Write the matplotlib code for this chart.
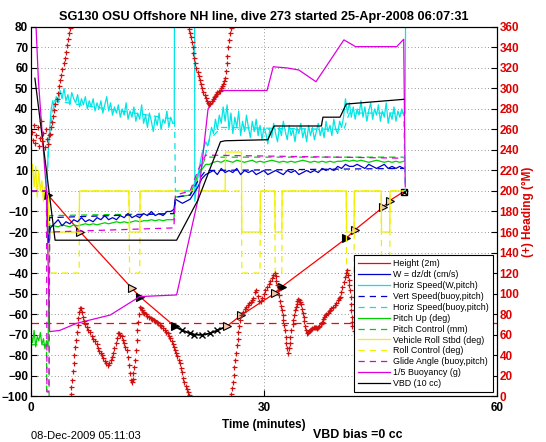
import matplotlib
matplotlib.use('Agg')
import matplotlib.pyplot as plt
from matplotlib.lines import Line2D

plt.rcParams['font.family'] = ['Liberation Sans', 'DejaVu Sans']

# ---- data (minutes / plot units) ----
t_desc = [3.0, 3.5, 4.0, 4.5, 5.0, 5.5, 6.0, 6.5, 7.0, 7.5, 8.0, 8.5, 9.0, 9.5, 10.0, 10.5,
          11.0, 11.5, 12.0, 12.5, 13.0, 13.5, 14.0, 14.5, 15.0, 15.5, 16.0, 16.5, 17.0, 17.5, 18.0]
t_asc = [23.0, 23.5, 24.0, 24.5, 25.0, 25.5, 26.0, 26.5, 27.0, 27.5, 28.0, 28.5, 29.0, 29.5,
         30.0, 30.5, 31.0, 31.5, 32.0, 32.5, 33.0, 33.5, 34.0, 34.5, 35.0, 35.5, 36.0, 36.5,
         37.0, 37.5, 38.0, 38.5, 39.0, 39.5, 40.0, 40.5, 41.0, 41.5, 42.0, 42.5, 43.0, 43.5,
         44.0, 44.5, 45.0, 45.5, 46.0, 46.5, 47.0, 47.5, 48.0]

# horiz speed (W, pitch), finer sampling
t_cy_desc = [3.0, 3.25, 3.5, 3.75, 4.0, 4.25, 4.5, 4.75, 5.0, 5.25, 5.5, 5.75, 6.0, 6.25, 6.5, 6.75,
             7.0, 7.25, 7.5, 7.75, 8.0, 8.25, 8.5, 8.75, 9.0, 9.25, 9.5, 9.75, 10.0, 10.25, 10.5,
             10.75, 11.0, 11.25, 11.5, 11.75, 12.0, 12.25, 12.5, 12.75, 13.0, 13.25, 13.5, 13.75,
             14.0, 14.25, 14.5, 14.75, 15.0, 15.25, 15.5, 15.75, 16.0, 16.25, 16.5, 16.75, 17.0,
             17.25, 17.5, 17.75, 18.0, 18.25]
cy_desc = [41, 46, 43, 49, 45, 50, 44, 47, 42, 48, 45, 43, 47, 41, 45, 42,
           46, 40, 44, 41, 45, 39, 43, 40, 44, 38, 42, 46, 39, 43, 37,
           41, 38, 42, 36, 40, 37, 43, 35, 39, 36, 41, 34, 38,
           35, 42, 33, 37, 31, 38, 34, 29, 36, 32, 38, 30, 35,
           33, 39, 31, 36, 33]
t_cy_asc = [23.0, 23.25, 23.5, 23.75, 24.0, 24.25, 24.5, 24.75, 25.0, 25.25, 25.5, 25.75, 26.0,
            26.25, 26.5, 26.75, 27.0, 27.25, 27.5, 27.75, 28.0, 28.25, 28.5, 28.75, 29.0, 29.25,
            29.5, 29.75, 30.0, 30.25, 30.5, 30.75, 31.0, 31.25, 31.5, 31.75, 32.0, 32.25, 32.5,
            32.75, 33.0, 33.25, 33.5, 33.75, 34.0, 34.25, 34.5, 34.75, 35.0, 35.25, 35.5, 35.75,
            36.0, 36.25, 36.5, 36.75, 37.0, 37.25, 37.5, 37.75, 38.0, 38.25, 38.5, 38.75, 39.0,
            39.25, 39.5, 39.75, 40.0, 40.25, 40.5, 40.75, 41.0, 41.25, 41.5, 41.75, 42.0, 42.25,
            42.5, 42.75, 43.0, 43.25, 43.5, 43.75, 44.0, 44.25, 44.5, 44.75, 45.0, 45.25, 45.5,
            45.75, 46.0, 46.25, 46.5, 46.75, 47.0, 47.25, 47.5, 47.75, 48.0]
cy_asc = [26, 31, 28, 35, 30, 37, 33, 41, 34, 42, 30, 38, 28,
          36, 31, 39, 27, 34, 29, 37, 31, 26, 34, 29, 35, 27,
          32, 25, 31, 28, 23, 30, 26, 33, 28, 24, 31, 27, 34,
          29, 25, 32, 27, 30, 24, 31, 28, 33, 26, 30, 24, 32,
          27, 31, 25, 29, 33, 27, 31, 26, 34, 29, 32, 27, 35,
          30, 28, 34, 31, 36, 45, 38, 43, 36, 41, 35, 40, 37,
          44, 36, 41, 34, 39, 43, 35, 40, 37, 42, 34, 39, 36,
          43, 33, 38, 35, 41, 34, 39, 36, 40, 37]
# W = dz/dt
w_desc = [-16, -14, -17, -15, -16, -14, -15, -13, -15, -14, -15, -13, -14, -12, -14, -13,
          -14, -12, -13, -11, -13, -12, -13, -11, -12, -10, -12, -11, -12, -10, -10]
w_asc = [9, 10, 8, 11, 9, 10, 9, 11, 8, 10, 9, 10, 8, 9, 10, 8, 9, 10, 9, 8, 10, 9, 10, 8,
         9, 10, 9, 10, 9, 11, 10, 11, 10, 12, 11, 13, 12, 12, 13, 12, 11, 13, 12, 11, 12,
         13, 11, 12, 11, 12, 11]
# pitch up
pitch_desc = [-17, -17.5, -16.5, -17, -17.5, -16.5, -17, -16.5, -16, -16.5, -16, -16.5, -16, -15.5,
              -16, -15.5, -15, -15.5, -15, -15.5, -15, -14.5, -15, -14.5, -14.5, -14, -14.5, -14,
              -14.5, -14, -14]
pitch_asc = [13, 14, 14.5, 14, 15, 14.5, 14, 15, 14.5, 14, 14.5, 15, 14, 14.5, 14, 14.5, 15, 14.5,
             14, 14.5, 14, 14.5, 14, 14.5, 15, 14.5, 14, 14.5, 14, 14.5, 14, 14.5, 14, 14.5, 14.5,
             15, 14.5, 15, 14.5, 15, 14.5, 14, 14.5, 15, 14.5, 14, 14.5, 14, 14.5, 14, 14.5]

t_surf = [0.0, 0.2, 0.4, 0.6, 0.8, 1.0, 1.2, 1.4, 1.6, 1.8, 2.0, 2.2]
pitch_surf = [-70, -74, -68, -76, -71, -73, -69, -75, -72, -77, -73, -76]
roll_surf = [8, 13, 2, 12, -3, 10, 0, 5, -5, 2, 0, -2]

# smooth model curves
t_model = [0.0, 2.0, 2.05, 2.3, 2.4, 18.4, 18.6, 20.5, 21.5, 22.5, 48.0]
glide_v = [0, 0, -98, -98, -20, -18, -2, 0, 10, 17.5, 16]
pcon_v = [-75, -75, -130, -130, -12, -11, -3, -2, 8, 16.5, 16.5]
vspd_v = [0, 0, -25, -25, -13, -11, -3, -2, 5, 10, 11]
hspd_t = [2.0, 2.3, 3.0, 18.5, 18.6, 20.5, 21.5, 23.0, 24.5, 40.3, 41.0, 48.0, 48.2]
hspd_v = [0, 25, 44, 35, 0, 0, 5, 25, 31, 30, 38, 38, 0]

# roll
roll_t = [2.2, 2.3, 6.2, 6.25, 12.6, 12.7, 14.0, 14.05, 25.0, 25.05, 27.1, 27.15, 29.5, 29.55,
          31.4, 31.45, 32.3, 32.35, 40.6, 40.65, 41.6, 41.65, 45.1, 45.15, 46.2, 46.25, 48.0]
roll_v = [-2, -20, -20, 0, 0, -20, -20, 0, 0, 19, 19, -20, -20, 0,
          0, -20, -20, 0, 0, -20, -20, 0, 0, -20, -20, 0, 0]
rollc_t = [0.0, 2.3, 2.35, 6.2, 6.25, 12.6, 12.7, 14.0, 14.05, 27.1, 27.15, 29.5, 29.55,
           31.4, 31.45, 32.3, 32.35, 40.6, 40.65, 41.6, 41.65, 45.1, 45.15, 46.2, 46.25, 48.0]
rollc_v = [0, 0, -40, -40, 0, 0, -40, -40, 0, 0, -40, -40, 0,
           0, -40, -40, 0, 0, -40, -40, 0, 0, -40, -40, 0, 0]

# 1/5 buoyancy
buoy_t = [0.3, 0.65, 0.95, 1.5, 2.0, 2.4, 3.7, 5.9, 10.2, 14.0, 18.75, 21.5, 22.8, 24.5,
          30.4, 31.2, 33.0, 34.5, 36.7, 40.3, 41.8, 47.1, 48.0, 48.2]
buoy_v = [110, 80, 54, 25, -1, -68.6, -68, -64.5, -60.5, -51.5, -50.7, -4.4, 40, 49,
          49, 60.6, 60, 59, 53.3, 73.7, 70.4, 70.4, 74, 2]
# VBD
vbd_t = [0.5, 3.1, 18.75, 21.5, 24.4, 25.0, 30.5, 31.3, 37.4, 37.6, 39.8, 40.6, 48.0]
vbd_v = [55, -24, -24, -4.4, 24, 24.5, 25, 31.7, 31.7, 36, 36, 42.4, 44.7]

# height (2m)
ht_t = [2.2, 6.3, 13.0, 14.0, 18.5]
ht_v = [-2, -19.8, -47.5, -51.5, -66]
apo_t = [18.5, 19.5, 20.5, 21.0, 22.0, 23.0, 24.0, 25.2]
apo_v = [-66, -68, -69.5, -70, -70.2, -69.5, -68, -66]
asc_t = [25.2, 27.1, 31.4, 32.3, 37.2, 40.6, 41.7, 45.3, 46.2, 48.0]
asc_v = [-66, -60.5, -49.9, -46.7, -32.8, -23.1, -19, -8, -4.7, -0.3]
open_mk_t = [6.3, 13.0, 25.2, 27.1, 31.4, 41.7, 45.3, 46.2]
open_mk_v = [-19.8, -47.5, -66, -60.5, -49.9, -19, -8, -4.7]
fill_mk_t = [2.2, 14.0, 18.5, 32.3, 40.6]
fill_mk_v = [-2, -51.5, -66, -46.7, -23.1]
target_depth = -64.4

# heading (deg), right axis
head_t = [0.1, 0.25, 0.4, 0.55, 0.7, 0.85, 1.0, 1.15, 1.3, 1.45, 1.6, 1.75, 1.9, 2.05, 2.2, 2.3,
          2.4, 2.55, 2.7, 2.85, 3.0, 3.15, 3.3, 3.45, 3.6, 3.75, 3.9, 4.05, 4.2, 4.35, 4.5, 4.65,
          4.8, 4.95, 5.05,
          5.1, 5.2, 5.3, 5.4, 5.5, 5.6, 5.7, 5.8, 5.9, 6.0, 6.1, 6.2, 6.3,
          6.4, 6.55, 6.7, 6.85, 7.0, 7.2, 7.4, 7.6, 7.8, 8.0, 8.2, 8.45, 8.6, 8.8, 8.95, 9.1,
          9.3, 9.5, 9.7, 9.95, 10.1, 10.3, 10.45, 10.6, 10.75, 10.9, 11.05, 11.2, 11.35, 11.5,
          11.7, 11.85, 12.0, 12.15, 12.3, 12.45, 12.6, 12.75, 12.9, 13.0, 13.1, 13.2, 13.3, 13.4,
          13.5, 13.6, 13.7, 13.8, 13.9, 14.0,
          14.15, 14.3, 14.45, 14.6, 14.8, 15.0, 15.2, 15.4, 15.6, 15.8, 16.0, 16.2, 16.4, 16.6,
          16.8, 17.0, 17.2, 17.4, 17.6, 17.8, 17.95, 18.1, 18.25, 18.4, 18.55, 18.7, 18.85, 19.0,
          19.15, 19.3, 19.45, 19.6, 19.75, 19.9, 20.05, 20.2, 20.3,
          20.4, 20.5, 20.6, 20.7, 20.8, 20.9, 21.0, 21.15, 21.3, 21.45, 21.6, 21.75, 21.9, 22.05,
          22.2, 22.35, 22.5, 22.65, 22.8, 22.95, 23.1, 23.25, 23.4, 23.55, 23.7, 23.85, 24.0,
          24.15, 24.3, 24.45, 24.6, 24.75, 24.9, 25.0, 25.1, 25.2, 25.3, 25.4, 25.5, 25.6, 25.7,
          25.8, 25.9, 26.0, 26.1, 26.2, 26.3, 26.4, 26.5, 26.6, 26.7, 26.8, 26.95, 27.1, 27.3,
          27.5, 27.7, 27.9, 28.1, 28.3, 28.5, 28.65, 28.8, 29.0, 29.2, 29.4, 29.6, 29.8, 30.0,
          30.2, 30.4, 30.6, 30.8, 31.0, 31.2, 31.4,
          31.5, 31.6, 31.7, 31.8, 31.9, 32.05, 32.2, 32.3, 32.4, 32.5, 32.6, 32.7, 32.8, 32.9,
          33.0, 33.1, 33.2, 33.3, 33.4, 33.55, 33.7, 33.8, 33.9, 34.0, 34.1, 34.2, 34.3, 34.4,
          34.55, 34.7, 34.8, 34.9, 35.0, 35.1, 35.2, 35.3, 35.4, 35.5, 35.65, 35.8, 35.95, 36.1,
          36.25, 36.4, 36.55, 36.7, 36.85, 37.0, 37.15, 37.3, 37.45, 37.6, 37.75, 37.9, 38.05,
          38.2, 38.35, 38.5, 38.7, 38.9, 39.1, 39.3, 39.5, 39.65, 39.8, 39.95, 40.1, 40.25, 40.4,
          40.55, 40.7, 40.8, 40.9, 41.0, 41.1, 41.15, 41.2, 41.25, 41.3, 41.35, 41.4,
          41.6, 41.8, 42.0, 42.3, 42.6, 43.0, 43.4, 43.8, 44.2, 44.6, 45.0, 45.4, 45.8, 46.2,
          46.6, 47.0, 47.4, 47.8]
head_v = [258, 250, 264, 247, 255, 262, 244, 252, 268, 249, 257, 243, 260, 251, 246, 255,
          256, 262, 267, 273, 279, 285, 290, 296, 302, 308, 313, 319, 325, 330, 336, 342,
          348, 354, 359,
          2, 9, 16, 24, 32, 40, 48, 55, 62, 69, 76, 82, 86,
          86, 82, 77, 73, 70, 67, 64, 62, 59, 56, 54, 51, 47, 44, 42, 40,
          37, 34, 32, 30, 32, 35, 38, 42, 47, 52, 57, 61, 61, 60,
          59, 55, 52, 48, 45, 38, 30, 22, 16, 14, 17, 22, 28, 35,
          45, 55, 64, 72, 80, 87,
          86, 84, 82, 81, 80, 78, 77, 76, 75, 74, 73, 72, 71, 69,
          68, 66, 64, 62, 61, 59, 57, 54, 51, 48, 45, 42, 39, 35,
          32, 27, 23, 18, 14, 10, 7, 4, 1,
          358, 354, 350, 345, 340, 335, 330, 325, 320, 316, 312, 308, 304, 300,
          297, 294, 291, 288, 286, 285, 286, 288, 290, 292, 293, 295, 297,
          298, 298, 300, 302, 304, 307, 310, 317, 325, 332, 340, 347, 354, 359,
          2, 8, 14, 21, 28, 35, 42, 50, 56, 62, 68, 74, 79, 82,
          85, 87, 89, 91, 92, 94, 96, 101, 103, 98, 93, 93, 96, 100,
          103, 106, 109, 112, 115, 118, 120,
          117, 112, 108, 103, 99, 93, 88, 84, 79, 74, 69, 64, 58, 52,
          47, 42, 47, 52, 58, 64, 70, 74, 79, 84, 87, 90, 93, 95,
          94, 92, 90, 85, 81, 77, 73, 68, 64, 61, 62, 63, 64, 65,
          66, 67, 67.6, 67, 66, 67, 68, 70, 72, 75, 77, 79, 80,
          81, 83, 84, 85.5, 87, 89, 91, 94, 96, 97, 101, 106, 111, 116,
          120, 123, 118, 113, 108, 103, 97, 90, 84, 77, 72, 68,
          63, 62, 64, 68, 72, 76, 80, 84, 88, 92, 96, 100, 104, 108,
          111, 114, 116, 118]

c_head = '#d01010'
c_cyan = '#00e5e5'
c_mag = '#dd00dd'
c_green = '#00d000'
c_blue = '#0000cc'
c_yellow = '#f0f000'

# ---- plot ----
fig = plt.figure(figsize=(5.46, 4.42), dpi=100)
ax = fig.add_axes([0.0568, 0.104, 0.8532, 0.835])
ax2 = ax.twinx()

lw = 0.9
dash = (0, (5, 4))
ax.plot(ht_t, ht_v, color='r', lw=lw)
ax.plot(asc_t, asc_v, color='r', lw=lw)
ax.plot(apo_t, apo_v, color='k', lw=1.3)
ax.plot([0, 60], [target_depth, target_depth], color='r', lw=lw, ls=(0, (6, 4)))
ax.plot(open_mk_t, open_mk_v, ls='none', marker='>', ms=6, mfc='#f2c8a8', mec='k', mew=0.8)
ax.plot(fill_mk_t, fill_mk_v, ls='none', marker='>', ms=6, mfc='k', mec='k', mew=0.8)
ax.plot(apo_t[1:-1], apo_v[1:-1], ls='none', marker='x', ms=4, color='k', mew=1.0)
ax.plot([48.0], [-0.3], ls='none', marker='s', ms=4.5, mfc='none', mec='k', mew=1.0)
ax.plot([48.0], [-0.3], ls='none', marker='x', ms=4.5, color='k', mew=1.0)

# pitch / roll
ax.plot(t_surf + [2.4] + t_desc + [18.4, 18.6, 20.5, 21.5, 22.5] + t_asc,
        pitch_surf + [-17] + pitch_desc + [-14, -3, -2, 8, 13] + pitch_asc,
        color=c_green, lw=lw)
ax.plot(t_model, pcon_v, color=c_green, lw=lw, ls=dash)
ax.plot(t_surf + roll_t, roll_surf + roll_v, color=c_yellow, lw=lw)
ax.plot(rollc_t, rollc_v, color=c_yellow, lw=lw, ls=dash)

# speeds
ax.plot(hspd_t, hspd_v, color=c_cyan, lw=lw, ls=dash)
ax.plot([2.0, 2.3, 2.6, 2.8] + t_cy_desc + [18.45, 18.5, 21.05, 21.1, 21.3, 21.6, 22.0, 22.5, 22.75]
        + t_cy_asc + [48.2, 48.3],
        [2, 25, 40, 44] + cy_desc + [33, 150, 150, -5, 2, 10, 18, 24, 22] + cy_asc + [38, 150],
        color=c_cyan, lw=lw)
ax.plot(t_model, vspd_v, color=c_blue, lw=lw, ls=dash)
ax.plot([2.0, 2.2, 2.5] + t_desc + [18.4, 18.6, 19.5, 20.5, 21.0, 21.5, 22.0, 22.5] + t_asc,
        [-2, -25, -18] + w_desc + [-9, -4, -6, -4, -1, 2, 6, 8] + w_asc,
        color=c_blue, lw=lw)

# buoyancy / glide / vbd
ax.plot(t_model[:-1] + [48.0], glide_v, color=c_mag, lw=lw, ls=dash)
ax.plot(buoy_t, buoy_v, color=c_mag, lw=lw)
ax.plot(vbd_t, vbd_v, color='k', lw=lw)

# heading on right axis
ax2.plot(head_t, head_v, ls='none', marker='+', ms=3.6, mew=0.9, color=c_head)

ax.set_xlim(0, 60)
ax.set_ylim(-100, 80)
ax2.set_ylim(0, 360)
ax.set_xticks([0, 30, 60])
ax.set_yticks(range(-100, 81, 10))
ax2.set_yticks(range(0, 361, 20))

for lab in ax.get_xticklabels() + ax.get_yticklabels():
    lab.set_fontsize(8.5)
    lab.set_fontweight('bold')
for lab in ax2.get_yticklabels():
    lab.set_fontsize(8.5)
    lab.set_fontweight('bold')
    lab.set_color('#dd0000')
ax.tick_params(direction='in', length=4, width=0.8, pad=2)
ax.tick_params(axis='x', pad=4)
ax2.tick_params(direction='in', length=4, width=0.8, pad=2)

ax.grid(True, color='0.45', ls=(0, (1, 3)), lw=0.6)
for sp in ax.spines.values():
    sp.set_linewidth(0.8)

ax.set_title('SG130 OSU Offshore NH line, dive 273 started 25-Apr-2008 06:07:31',
             fontsize=9.2, fontweight='bold', pad=5)
ax.set_xlabel('Time (minutes)', fontsize=8.5, fontweight='bold', labelpad=4)
ax2.set_ylabel('(+) Heading (\u00b0M)', fontsize=8.5, fontweight='bold', color='#dd0000', labelpad=2)

fig.text(0.057, 0.0136, '08-Dec-2009 05:11:03', fontsize=8, va='center')
fig.text(0.573, 0.016, 'VBD bias =0 cc', fontsize=8.9, fontweight='bold', va='center')

handles = [
    Line2D([], [], color='r', lw=lw),
    Line2D([], [], color=c_blue, lw=lw),
    Line2D([], [], color=c_cyan, lw=lw),
    Line2D([], [], color=c_blue, lw=lw, ls=dash),
    Line2D([], [], color=c_cyan, lw=lw, ls=dash),
    Line2D([], [], color=c_green, lw=lw),
    Line2D([], [], color=c_green, lw=lw, ls=dash),
    Line2D([], [], color=c_yellow, lw=lw),
    Line2D([], [], color=c_yellow, lw=lw, ls=dash),
    Line2D([], [], color=c_mag, lw=lw, ls=dash),
    Line2D([], [], color=c_mag, lw=lw),
    Line2D([], [], color='k', lw=lw),
]
labels = ['Height (2m)', 'W = dz/dt (cm/s)', 'Horiz Speed(W,pitch)', 'Vert Speed(buoy,pitch)',
          'Horiz Speed(buoy,pitch)', 'Pitch Up (deg)', 'Pitch Control (mm)',
          'Vehicle Roll Stbd (deg)', 'Roll Control (deg)', 'Glide Angle (buoy,pitch)',
          '1/5 Buoyancy (g)', 'VBD (10 cc)']
leg = ax2.legend(handles, labels, loc='lower right', fontsize=6.4, handlelength=3.5,
                 labelspacing=0.21, borderpad=0.45, handletextpad=0.4, fancybox=False,
                 framealpha=1, edgecolor='k', borderaxespad=0.45)
leg.get_frame().set_linewidth(0.8)

fig.savefig('out.png', dpi=100)
